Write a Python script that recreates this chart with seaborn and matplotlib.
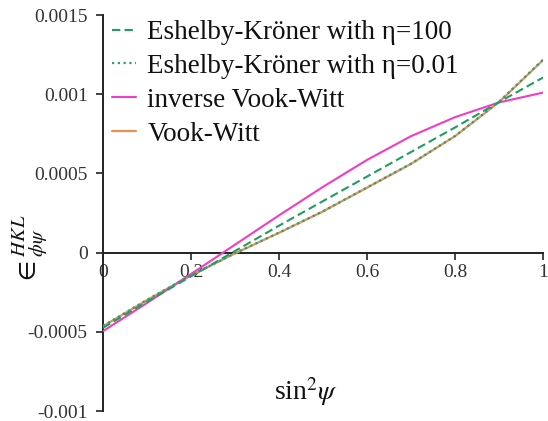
import numpy as np
import pandas as pd
import matplotlib
matplotlib.use("Agg")
import matplotlib.pyplot as plt
import seaborn as sns

# ---- data ----
sin2psi = [0.0, 0.1, 0.2, 0.3, 0.4, 0.5, 0.6, 0.7, 0.8, 0.9, 1.0]
ek_eta100 = [-0.000475, -0.000310, -0.000150, 0.000010, 0.000170, 0.000325,
             0.000480, 0.000635, 0.000790, 0.000950, 0.001105]
ek_eta001 = [-0.000463, -0.000298, -0.000143, -0.000004, 0.000126, 0.000261,
             0.000411, 0.000561, 0.000736, 0.000952, 0.001218]
inverse_vw = [-0.000496, -0.000318, -0.000135, 0.000050, 0.000235, 0.000415,
              0.000585, 0.000735, 0.000855, 0.000948, 0.001010]
vook_witt = [-0.000465, -0.000300, -0.000145, -0.000005, 0.000125, 0.000260,
             0.000410, 0.000560, 0.000735, 0.000950, 0.001215]
labels = ["Eshelby-Kröner with η=100", "Eshelby-Kröner with η=0.01",
          "inverse Vook-Witt", "Vook-Witt"]
yticks = [-0.001, -0.0005, 0, 0.0005, 0.001, 0.0015]
yticklabels = ["-0.001", "-0.0005", "0", "0.0005", "0.001", "0.0015"]
xticks = [0, 0.2, 0.4, 0.6, 0.8, 1]
xticklabels = ["0", "0.2", "0.4", "0.6", "0.8", "1"]

sns.set_theme(style="white")
plt.rcParams["font.family"] = ["Liberation Serif", "DejaVu Serif"]
plt.rcParams["mathtext.fontset"] = "stix"

fig = plt.figure(figsize=(5.48, 4.21), dpi=100)
ax = fig.add_axes([103 / 548, 1 - 411 / 421, (543 - 103) / 548, (411 - 15) / 421])

series = [
    (ek_eta100, "#1f9e5e", (0, (4, 2)), 1.5, 4),
    (ek_eta001, "#2a9d85", (0, (1, 1.6)), 1.6, 5),
    (inverse_vw, "#f03cc6", "-", 1.5, 3),
    (vook_witt, "#e8914e", "-", 1.6, 2),
]
for (vals, color, ls, lw, z), lab in zip(series, labels):
    df = pd.DataFrame({"x": sin2psi, "y": vals})
    sns.lineplot(data=df, x="x", y="y", ax=ax, color=color, linestyle=ls,
                 linewidth=lw, zorder=z, label=lab)

ax.set_xlim(0, 1)
ax.set_ylim(-0.001, 0.0015)
ax.spines["top"].set_visible(False)
ax.spines["right"].set_visible(False)
ax.spines["bottom"].set_position(("data", 0))
for sp in ("left", "bottom"):
    ax.spines[sp].set_color("#222222")
    ax.spines[sp].set_linewidth(1.4)
    ax.spines[sp].set_zorder(1)

ax.set_yticks(yticks)
ax.set_yticklabels(yticklabels)
ax.set_xticks(xticks)
ax.set_xticklabels(xticklabels)
ax.tick_params(axis="both", which="major", direction="out", length=5,
               width=1.2, color="#222222", labelsize=14, labelcolor="#333333",
               left=True, bottom=True)
ax.tick_params(axis="y", pad=6)
ax.tick_params(axis="x", pad=3)

ax.set_xlabel("")
ax.set_ylabel("")
fig.text(306 / 548, 1 - 392 / 421, r"sin$^2\psi$", fontsize=20,
         ha="center", va="center", color="#111111")
fig.text(30 / 548, 1 - 250 / 421, r"$\in^{HKL}_{\phi\psi}$",
         fontsize=21, rotation=90, ha="center", va="center", color="#111111")

leg = ax.legend(loc="upper left", bbox_to_anchor=(112 / 548, 1 - 20 / 421),
                bbox_transform=fig.transFigure, frameon=False, fontsize=19.5,
                handlelength=0.9, handletextpad=0.4, labelspacing=0.33,
                borderpad=0, borderaxespad=0)
for t in leg.get_texts():
    t.set_color("#111111")

fig.savefig("out.png", dpi=100)
